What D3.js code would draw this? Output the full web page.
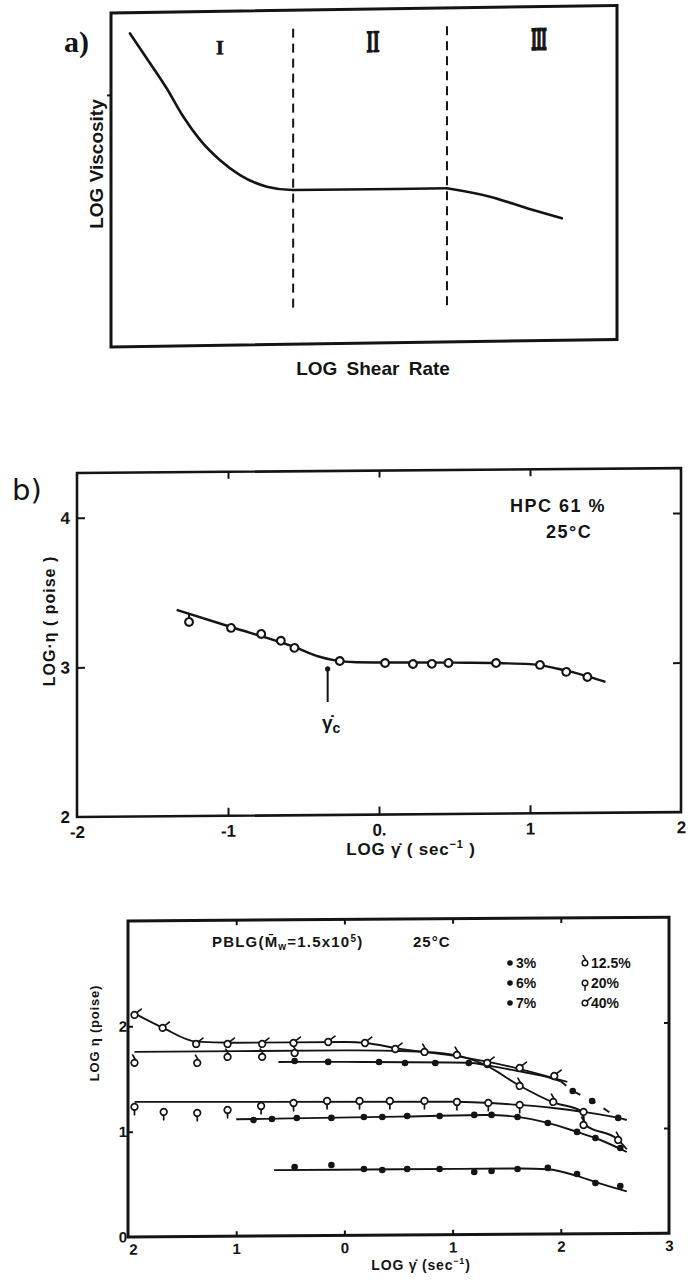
<!DOCTYPE html>
<html>
<head>
<meta charset="utf-8">
<script src="https://cdn.jsdelivr.net/npm/d3@7"></script>
<style>
  html, body { margin: 0; padding: 0; background: #fff; }
  svg { display: block; }
  text { fill: #141414; }
</style>
</head>
<body>
<svg id="chart" width="694" height="1280"></svg>
<script>
// ---------------- DATA ----------------
// Panel a (schematic, arbitrary units)
const aCurveX = [0.375, 0.705, 1.10, 1.43, 1.76, 2.15, 2.55, 3.08, 3.60, 6.64];
const aCurveY = [9.38, 8.63, 7.72, 6.86, 6.16, 5.55, 5.09, 4.73, 4.62, 4.60];
const aTailX = [6.64, 7.49, 8.22, 8.91];
const aTailY = [4.60, 4.33, 3.97, 3.65];
const aBoundaries = [3.60, 6.64];
const aRegionLabels = ["I", "II", "III"];

// Panel b: HPC 61 %, 25 °C
const bX = [-1.258, -0.98, -0.78, -0.65, -0.56, -0.26, 0.04, 0.225, 0.35, 0.46, 0.775, 1.066, 1.24, 1.38];
const bY = [3.298, 3.256, 3.214, 3.167, 3.119, 3.029, 3.013, 3.005, 3.005, 3.010, 3.007, 2.992, 2.944, 2.909];
const bFitX = [-1.34, -0.98, -0.56, -0.40, -0.30, -0.15, 0.5, 1.0, 1.24, 1.50];
const bFitY = [3.379, 3.262, 3.125, 3.06, 3.035, 3.02, 3.012, 2.998, 2.952, 2.875];
const bCritX = -0.34;
const bCritY = [2.977, 2.756];
const bXTicks = [-2, -1, 0, 1, 2];
const bXTickLabels = ["-2", "-1", "0.", "1", "2"];
const bYTicks = [2, 3, 4];

// Panel c: PBLG, 25 °C
const c3X = [-0.46, -0.12, 0.18, 0.35, 0.58, 0.88, 1.20, 1.36, 1.60, 1.88, 2.15, 2.32, 2.55];
const c3Y = [0.654, 0.670, 0.630, 0.619, 0.627, 0.625, 0.594, 0.603, 0.620, 0.628, 0.569, 0.481, 0.452];
const c3LineX = [-0.65, 0.5, 1.6, 1.88, 2.15, 2.32, 2.61];
const c3LineY = [0.625, 0.625, 0.625, 0.615, 0.55, 0.49, 0.40];

const c6X = [-0.84, -0.67, -0.44, -0.12, 0.18, 0.35, 0.58, 0.88, 1.20, 1.36, 1.60, 1.88, 2.15, 2.32, 2.55];
const c6Y = [1.103, 1.111, 1.119, 1.117, 1.124, 1.122, 1.130, 1.128, 1.136, 1.135, 1.114, 1.055, 0.968, 0.909, 0.813];
const c6LineX = [-1.0, -0.5, 0.5, 1.3, 1.6, 1.88, 2.15, 2.32, 2.61];
const c6LineY = [1.11, 1.115, 1.125, 1.135, 1.115, 1.055, 0.968, 0.909, 0.774];

const c7X = [-0.46, -0.15, 0.32, 0.56, 0.84, 1.15, 1.32, 2.11, 2.29, 2.53];
const c7Y = [1.66, 1.649, 1.645, 1.634, 1.632, 1.630, 1.610, 1.357, 1.261, 1.098];
const c7LineX = [-0.61, 0.0, 1.15, 1.35, 1.6, 1.84, 2.0];
const c7LineY = [1.652, 1.648, 1.632, 1.60, 1.55, 1.50, 1.45];
const c7DashX = [2.0, 2.11, 2.29, 2.53];
const c7DashY = [1.45, 1.357, 1.261, 1.098];

const c12X = [-1.94, -1.36, -1.08, -0.76, -0.46, 0.74, 1.04, 1.62, 1.93, 2.21, 2.53];
const c12Y = [1.653, 1.648, 1.703, 1.701, 1.736, 1.737, 1.707, 1.408, 1.254, 1.033, 0.889];
const c12LineX = [-1.94, 0.0, 0.6, 1.0, 1.3, 1.62, 1.93, 2.2, 2.22, 2.53, 2.61];
const c12LineY = [1.757, 1.757, 1.745, 1.71, 1.61, 1.41, 1.25, 1.16, 1.04, 0.89, 0.80];

const c20X = [-1.94, -1.67, -1.36, -1.08, -0.77, -0.47, -0.16, 0.14, 0.42, 0.74, 1.04, 1.33, 1.62, 2.21];
const c20Y = [1.235, 1.185, 1.173, 1.199, 1.235, 1.261, 1.278, 1.276, 1.274, 1.272, 1.260, 1.249, 1.228, 1.157];
const c20LineX = [-1.94, 1.0, 1.62, 1.93, 2.21, 2.53, 2.61];
const c20LineY = [1.282, 1.262, 1.228, 1.197, 1.157, 1.098, 1.078];

const c40X = [-1.94, -1.68, -1.37, -1.08, -0.76, -0.47, -0.15, 0.19, 0.47, 1.32, 1.62, 1.94];
const c40Y = [2.108, 1.983, 1.828, 1.826, 1.824, 1.831, 1.838, 1.826, 1.767, 1.629, 1.579, 1.50];
const c40LineX = [-1.95, -1.68, -1.37, -1.0, 0.0, 0.2, 0.5, 1.0, 1.5, 2.06];
const c40LineY = [2.127, 1.985, 1.85, 1.837, 1.837, 1.826, 1.77, 1.70, 1.60, 1.443];

const cLegendLabels = ["3%", "6%", "7%", "12.5%", "20%", "40%"];
const cLegendSymbols = ["dot", "dot", "dot", "flag", "stem", "tail"];
const cXTicks = [-2, -1, 0, 1, 2, 3];
const cXTickLabels = ["2", "1", "0", "1", "2", "3"];
const cYTicks = [0, 1, 2];

// ---------------- DRAWING ----------------
const INK = "#141414";
const SANS = "'Liberation Sans', Arial, Helvetica, sans-serif";
const SERIF = "'Liberation Serif', 'DejaVu Serif', serif";
const svg = d3.select("#chart");
svg.append("rect").attr("width", 694).attr("height", 1280).attr("fill", "#fff");

function skewGroup(x0, deg) {
  return svg.append("g").attr("transform", `translate(${x0},0) skewY(${deg}) translate(${-x0},0)`);
}
function styleAxis(sel, size) {
  sel.select(".domain").remove();
  sel.selectAll(".tick line").attr("stroke", INK).attr("stroke-width", 2);
  sel.selectAll(".tick text").attr("fill", INK).style("font-family", SANS)
     .style("font-weight", "bold").style("font-size", size + "px");
}
function marker(g, type, cx, cy, r, sw) {
  const m = g.append("g").attr("transform", `translate(${cx},${cy})`);
  if (type === "dot") {
    m.append("circle").attr("r", r).attr("fill", INK);
    return m;
  }
  m.append("circle").attr("r", r).attr("fill", "#fff").attr("stroke", INK).attr("stroke-width", sw);
  const ln = (x1, y1, x2, y2) => m.append("line").attr("x1", x1).attr("y1", y1).attr("x2", x2).attr("y2", y2)
    .attr("stroke", INK).attr("stroke-width", sw).attr("stroke-linecap", "round");
  if (type === "flag") ln(0.8, -r, -1.8, -r - 4.5);
  if (type === "stem") ln(0, r, 0, r + 4.5);
  if (type === "tail") ln(r * 0.7, -r * 0.7, r + 3.5, -r - 2.5);
  return m;
}

// ===== Panel a =====
const xA = d3.scaleLinear().domain([0, 10]).range([111, 617]);
const yA = d3.scaleLinear().domain([0, 10]).range([347, 13]);
const gA = skewGroup(111, -0.86);
gA.append("rect").attr("x", xA(0)).attr("y", yA(10)).attr("width", xA(10) - xA(0))
  .attr("height", yA(0) - yA(10)).attr("fill", "none").attr("stroke", INK).attr("stroke-width", 3);
aBoundaries.forEach(b => {
  gA.append("line").attr("x1", xA(b)).attr("x2", xA(b)).attr("y1", yA(9.45)).attr("y2", yA(0.95))
    .attr("stroke", INK).attr("stroke-width", 2).attr("stroke-dasharray", "9,6");
});
gA.append("path").attr("d", d3.line().x(d => xA(d[0])).y(d => yA(d[1])).curve(d3.curveMonotoneX)(d3.zip(aCurveX, aCurveY)))
  .attr("fill", "none").attr("stroke", INK).attr("stroke-width", 2.6).attr("stroke-linecap", "round");
gA.append("path").attr("d", d3.line().x(d => xA(d[0])).y(d => yA(d[1])).curve(d3.curveMonotoneX)(d3.zip(aTailX, aTailY)))
  .attr("fill", "none").attr("stroke", INK).attr("stroke-width", 2.6).attr("stroke-linecap", "round");
const aTickAxis = gA.append("g").attr("transform", `translate(${xA(0)},0)`)
  .call(d3.axisLeft(yA).tickValues([7.55]).tickSize(4).tickFormat(""));
styleAxis(aTickAxis, 10);
// region labels
const aLabelPos = [2.15, 5.18, 8.46];
const aLabelSize = [20, 31, 31];
const aLabelWidth = [null, 13, 15];
const aLabelStroke = [0.6, 1.4, 2.6];
aRegionLabels.forEach((t, i) => {
  const tx = gA.append("text").attr("x", xA(aLabelPos[i])).attr("y", yA(8.72))
    .attr("text-anchor", "middle")
    .style("font-family", SERIF).style("font-weight", "bold")
    .style("font-size", aLabelSize[i] + "px")
    .attr("stroke", INK).attr("stroke-width", aLabelStroke[i]).text(t);
  if (aLabelWidth[i]) tx.attr("textLength", aLabelWidth[i]).attr("lengthAdjust", "spacingAndGlyphs")
    .attr("x", xA(aLabelPos[i]) - aLabelWidth[i] / 2).attr("text-anchor", "start");
});
svg.append("text").attr("x", 64).attr("y", 52)
  .style("font-family", SERIF).style("font-weight", "bold").style("font-size", "30px").text("a)");
svg.append("text").attr("transform", "translate(103,164) rotate(-90)").attr("text-anchor", "middle")
  .style("font-family", SANS).style("font-weight", "bold").style("font-size", "19px").text("LOG Viscosity");
svg.append("text").attr("x", 373).attr("y", 375).attr("text-anchor", "middle")
  .style("font-family", SANS).style("font-weight", "bold").style("font-size", "19px")
  .style("word-spacing", "4px").text("LOG Shear Rate");

// ===== Panel b =====
const xB = d3.scaleLinear().domain([-2, 2]).range([77, 681]);
const yB = d3.scaleLinear().domain([2, 4.3]).range([817, 473]);
const gB = skewGroup(77, -0.46);
gB.append("rect").attr("x", xB(-2)).attr("y", yB(4.3)).attr("width", xB(2) - xB(-2))
  .attr("height", yB(2) - yB(4.3)).attr("fill", "none").attr("stroke", INK).attr("stroke-width", 2.6);
const bAxB = gB.append("g").attr("transform", `translate(0,${yB(2)})`)
  .call(d3.axisBottom(xB).tickValues(bXTicks).tickSizeInner(-8).tickSizeOuter(0).tickPadding(9)
    .tickFormat((d, i) => bXTickLabels[i]));
styleAxis(bAxB, 17);
bAxB.selectAll(".tick line").filter(d => d === -2 || d === 2).remove();
const bAxT = gB.append("g").attr("transform", `translate(0,${yB(4.3)})`)
  .call(d3.axisTop(xB).tickValues([-1, 0, 1]).tickSizeInner(-7).tickSizeOuter(0).tickFormat(""));
styleAxis(bAxT, 10);
const bAxL = gB.append("g").attr("transform", `translate(${xB(-2)},0)`)
  .call(d3.axisLeft(yB).tickValues(bYTicks).tickSizeInner(-8).tickSizeOuter(0).tickPadding(7).tickFormat(d3.format("d")));
styleAxis(bAxL, 17);
bAxL.selectAll(".tick line").filter(d => d === 2).remove();
const bAxR = gB.append("g").attr("transform", `translate(${xB(2)},0)`)
  .call(d3.axisRight(yB).tickValues([3, 4]).tickSizeInner(-8).tickSizeOuter(0).tickFormat(""));
styleAxis(bAxR, 10);

const bLine = d3.line().x(d => xB(d[0])).y(d => yB(d[1])).curve(d3.curveMonotoneX);
gB.append("path").attr("d", bLine(d3.zip(bFitX, bFitY)))
  .attr("fill", "none").attr("stroke", INK).attr("stroke-width", 2.4);
// first point hangs from the line
const fitAt = x => d3.scaleLinear().domain(bFitX).range(bFitY)(x);
gB.append("line").attr("x1", xB(bX[0])).attr("x2", xB(bX[0]))
  .attr("y1", yB(bY[0]) - 3.8).attr("y2", yB(fitAt(bX[0])))
  .attr("stroke", INK).attr("stroke-width", 2);
bX.forEach((x, i) => marker(gB, "open", xB(x), yB(bY[i]), 3.9, 2.1));
// critical shear rate marker
gB.append("line").attr("x1", xB(bCritX)).attr("x2", xB(bCritX))
  .attr("y1", yB(bCritY[0])).attr("y2", yB(bCritY[1])).attr("stroke", INK).attr("stroke-width", 2);
gB.append("circle").attr("cx", xB(bCritX)).attr("cy", yB(bCritY[0])).attr("r", 2.6).attr("fill", INK);
const gc = svg.append("text").attr("x", 322).attr("y", 729)
  .style("font-family", SANS).style("font-weight", "bold").style("font-size", "19px");
gc.append("tspan").text("γ̇");
gc.append("tspan").attr("dy", 4).style("font-size", "14px").text("c");

svg.append("text").attr("x", 12).attr("y", 500)
  .style("font-family", "'DejaVu Sans', sans-serif").style("font-size", "29px").text("b)");
svg.append("text").attr("x", 510).attr("y", 512)
  .style("font-family", SANS).style("font-weight", "bold").style("font-size", "18px")
  .style("letter-spacing", "1.5px").text("HPC 61 %");
svg.append("text").attr("x", 546).attr("y", 538)
  .style("font-family", SANS).style("font-weight", "bold").style("font-size", "18px")
  .style("letter-spacing", "1.5px").text("25°C");
svg.append("text").attr("transform", "translate(55,621) rotate(-90)").attr("text-anchor", "middle")
  .style("font-family", SANS).style("font-weight", "bold").style("font-size", "16px")
  .style("letter-spacing", "1px").text("LOG·η ( poise )");
const bxl = svg.append("text").attr("x", 411).attr("y", 855).attr("text-anchor", "middle")
  .style("font-family", SANS).style("font-weight", "bold").style("font-size", "17px").style("letter-spacing", "0.8px");
bxl.append("tspan").text("LOG γ̇ ( sec");
bxl.append("tspan").attr("dy", -7).style("font-size", "11px").text("−1");
bxl.append("tspan").attr("dy", 7).text(" )");

// ===== Panel c =====
const xC = d3.scaleLinear().domain([-2, 3]).range([128, 669]);
const yC = d3.scaleLinear().domain([0, 3]).range([1237, 921]);
const gC = skewGroup(128, -0.40);
gC.append("rect").attr("x", xC(-2)).attr("y", yC(3)).attr("width", xC(3) - xC(-2))
  .attr("height", yC(0) - yC(3)).attr("fill", "none").attr("stroke", INK).attr("stroke-width", 3);
const cAxB = gC.append("g").attr("transform", `translate(0,${yC(0)})`)
  .call(d3.axisBottom(xC).tickValues(cXTicks).tickSizeInner(-5).tickSizeOuter(0).tickPadding(7)
    .tickFormat((d, i) => cXTickLabels[i]));
styleAxis(cAxB, 15);
cAxB.selectAll(".tick line").filter(d => d === -2 || d === 3).remove();
cAxB.selectAll(".tick text").filter(d => d === -2).attr("dx", 5);
const cAxT = gC.append("g").attr("transform", `translate(0,${yC(3)})`)
  .call(d3.axisTop(xC).tickValues([-1, 0, 1, 2]).tickSizeInner(-5).tickSizeOuter(0).tickFormat(""));
styleAxis(cAxT, 10);
const cAxL = gC.append("g").attr("transform", `translate(${xC(-2)},0)`)
  .call(d3.axisLeft(yC).tickValues(cYTicks).tickSizeInner(-5).tickSizeOuter(0).tickPadding(1).tickFormat(d3.format("d")));
styleAxis(cAxL, 15);
cAxL.selectAll(".tick line").filter(d => d === 0).remove();
const cAxR = gC.append("g").attr("transform", `translate(${xC(3)},0)`)
  .call(d3.axisRight(yC).tickValues([1, 2]).tickSizeInner(-5).tickSizeOuter(0).tickFormat(""));
styleAxis(cAxR, 10);

const cLine = d3.line().x(d => xC(d[0])).y(d => yC(d[1])).curve(d3.curveMonotoneX);
const cSeries = [
  { lx: c3LineX, ly: c3LineY, px: c3X, py: c3Y, sym: "dot" },
  { lx: c6LineX, ly: c6LineY, px: c6X, py: c6Y, sym: "dot" },
  { lx: c7LineX, ly: c7LineY, px: c7X, py: c7Y, sym: "dot" },
  { lx: c12LineX, ly: c12LineY, px: c12X, py: c12Y, sym: "flag" },
  { lx: c20LineX, ly: c20LineY, px: c20X, py: c20Y, sym: "stem" },
  { lx: c40LineX, ly: c40LineY, px: c40X, py: c40Y, sym: "tail" }
];
cSeries.forEach(s => {
  gC.append("path").attr("d", cLine(d3.zip(s.lx, s.ly)))
    .attr("fill", "none").attr("stroke", INK).attr("stroke-width", 1.9);
});
gC.append("path").attr("d", d3.line().x(d => xC(d[0])).y(d => yC(d[1]))(d3.zip(c7DashX, c7DashY)))
  .attr("fill", "none").attr("stroke", INK).attr("stroke-width", 1.9).attr("stroke-dasharray", "7,10");
cSeries.forEach(s => {
  s.px.forEach((x, i) => marker(gC, s.sym, xC(x), yC(s.py[i]), 3.3, 1.7));
});

// titles and legend
const ct = svg.append("text").attr("x", 212).attr("y", 947)
  .style("font-family", SANS).style("font-weight", "bold").style("font-size", "15px").style("letter-spacing", "1.2px");
ct.append("tspan").text("PBLG(M̄");
ct.append("tspan").attr("dy", 3).style("font-size", "10px").text("w");
ct.append("tspan").attr("dy", -3).text("=1.5x10");
ct.append("tspan").attr("dy", -5).style("font-size", "10px").text("5");
ct.append("tspan").attr("dy", 5).text(")");
svg.append("text").attr("x", 413).attr("y", 947)
  .style("font-family", SANS).style("font-weight", "bold").style("font-size", "15px").style("letter-spacing", "1px").text("25°C");
const legRowY = [963, 983, 1003];
const legColX = [510, 585];
cLegendLabels.forEach((lab, i) => {
  const col = Math.floor(i / 3), row = i % 3;
  const mx = legColX[col], my = legRowY[row];
  marker(svg, cLegendSymbols[i], mx, my, 2.8, 1.5);
  svg.append("text").attr("x", mx + 6).attr("y", my + 5)
    .style("font-family", SANS).style("font-weight", "bold").style("font-size", "14px").text(lab);
});
svg.append("text").attr("transform", "translate(99,1033) rotate(-90)").attr("text-anchor", "middle")
  .style("font-family", SANS).style("font-weight", "bold").style("font-size", "13px")
  .style("letter-spacing", "0.8px").text("LOG η (poise)");
const cxl = svg.append("text").attr("x", 421).attr("y", 1270).attr("text-anchor", "middle")
  .style("font-family", SANS).style("font-weight", "bold").style("font-size", "14px").style("letter-spacing", "0.8px");
cxl.append("tspan").text("LOG γ̇ (sec");
cxl.append("tspan").attr("dy", -6).style("font-size", "9px").text("−1");
cxl.append("tspan").attr("dy", 6).text(")");
</script>
</body>
</html>
